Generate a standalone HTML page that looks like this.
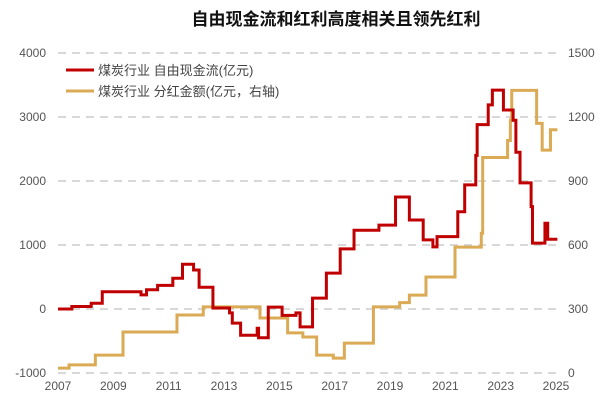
<!DOCTYPE html>
<html><head><meta charset="utf-8"><style>
body{margin:0;background:#fff;}
svg text{font-family:"Liberation Sans","Noto Sans CJK SC",sans-serif;}
</style></head><body>
<svg width="603" height="410" xmlns="http://www.w3.org/2000/svg">
<text x="336" y="25" text-anchor="middle" font-size="17" font-weight="bold" fill="#111">自由现金流和红利高度相关且领先红利</text>
<g id="grid"></g><g id="axes"></g><g id="series"></g>
<g>
<line x1="66" y1="70" x2="94" y2="70" stroke="#c00000" stroke-width="3"/>
<text x="98" y="75" font-size="13" fill="#444">煤炭行业 自由现金流(亿元)</text>
<line x1="66" y1="91" x2="94" y2="91" stroke="#dbaa55" stroke-width="3"/>
<text x="98" y="96" font-size="13" fill="#444">煤炭行业 分红金额(亿元，右轴)</text>
</g>
</svg>
<script>
const leftTicks=[4000,3000,2000,1000,0,-1000];
const rightTicks=[1500,1200,900,600,300,0];
const yearTicks=[2007,2009,2011,2013,2015,2017,2019,2021,2023,2025];
const fcfDates=[2007,2007.5,2008.2,2008.6,2010.0,2010.2,2010.6,2011.15,2011.5,2011.9,2012.1,2012.6,2013.2,2013.3,2013.6,2014.2,2014.25,2014.6,2015.1,2015.6,2015.75,2016.2,2016.7,2017.2,2017.7,2018.6,2019.2,2019.7,2020.2,2020.55,2020.7,2021.45,2021.7,2022.1,2022.15,2022.55,2022.7,2023.1,2023.45,2023.55,2023.7,2024.1,2024.15,2024.6,2024.7,2025.05];
const fcfValues=[0,40,90,270,220,300,370,480,700,610,340,15,-60,-220,-410,-300,-450,30,-100,-60,-280,170,560,940,1230,1310,1750,1390,1080,970,1130,1520,1940,2400,2880,3190,3420,3110,2950,2450,1970,1600,1030,1340,1090,1090];
const divDates=[2007,2007.4,2008.35,2009.35,2011.3,2012.25,2014.3,2015.3,2015.85,2016.35,2016.95,2017.35,2018.4,2019.35,2019.7,2020.3,2021.35,2022.3,2022.35,2023.25,2023.35,2023.4,2024.3,2024.5,2024.8,2025.05];
const divValues=[23,38,84,192,272,310,258,188,169,84,70,140,310,330,365,450,590,655,1010,1090,1185,1325,1170,1045,1140,1140];
const X0=58,X1=556,Y0=309,YL=64;
function x(t){return X0+(t-2007)/(2025-2007)*(X1-X0);}
function yl(v){return Y0-v/1000*YL;}
function yr(v){return 373-v/1500*320;}
const NS="http://www.w3.org/2000/svg";
function mk(tag,attrs,parent){const e=document.createElementNS(NS,tag);for(const k in attrs)e.setAttribute(k,attrs[k]);parent.appendChild(e);return e;}
const grid=document.getElementById('grid'),axes=document.getElementById('axes'),ser=document.getElementById('series');
leftTicks.forEach(v=>{
 const l=mk('line',{x1:58,x2:562,y1:yl(v),y2:yl(v),stroke:'#ccc','stroke-width':1.5,'stroke-dasharray':'8,6'},grid);
 
 
 const t=mk('text',{x:46,y:yl(v)+4,'text-anchor':'end','font-size':12,fill:'#555'},axes);
 t.textContent=v;
 
 
});
rightTicks.forEach(v=>{
 const t=mk('text',{x:568,y:yr(v)+4,'font-size':12,fill:'#555'},axes);
 t.textContent=v;
 
 
});
yearTicks.forEach(v=>{
 const t=mk('text',{x:x(v),y:390,'text-anchor':'middle','font-size':12,fill:'#555'},axes);
 t.textContent=v;
 
 
});
function step(d,v,yf){let p='M'+x(d[0])+','+yf(v[0]);for(let i=1;i<d.length;i++){p+=' L'+x(d[i])+','+yf(v[i-1])+' L'+x(d[i])+','+yf(v[i]);}return p;}
const pd=mk('path',{d:step(divDates,divValues,yr),fill:'none',stroke:'#dbaa55','stroke-width':3},ser);


const pf=mk('path',{d:step(fcfDates,fcfValues,yl),fill:'none',stroke:'#c00000','stroke-width':3},ser);


</script>
</body></html>
